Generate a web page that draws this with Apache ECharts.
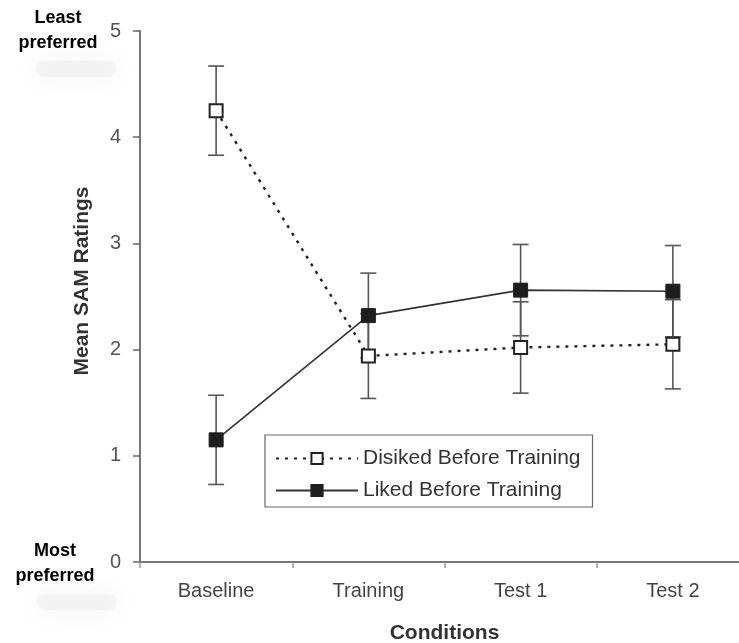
<!DOCTYPE html>
<html>
<head>
<meta charset="utf-8">
<script src="https://cdn.jsdelivr.net/npm/echarts@6/dist/echarts.min.js"></script>
<style>
  html, body { margin: 0; padding: 0; background: #fff; }
  #main { width: 739px; height: 643px; }
</style>
</head>
<body>
<div id="main"></div>
<script>
var categories = ['Baseline', 'Training', 'Test 1', 'Test 2'];
var dislikedMean = [4.25, 1.94, 2.02, 2.05];
var dislikedErr = [0.42, 0.40, 0.43, 0.42];
var likedMean = [1.15, 2.32, 2.56, 2.55];
var likedErr = [0.42, 0.40, 0.43, 0.43];
var yTicks = [0, 1, 2, 3, 4, 5];

var FONT = '"Liberation Sans", Arial, sans-serif';

function errData(mean, err) {
  var out = [];
  for (var i = 0; i < mean.length; i++) {
    out.push([i, mean[i] - err[i], mean[i] + err[i]]);
  }
  return out;
}

function renderErr(params, api) {
  var lo = api.coord([api.value(0), api.value(1)]);
  var hi = api.coord([api.value(0), api.value(2)]);
  var w = 8;
  var st = { stroke: '#555', lineWidth: 1.6 };
  return {
    type: 'group',
    children: [
      { type: 'line', shape: { x1: lo[0], y1: lo[1], x2: hi[0], y2: hi[1] }, style: st },
      { type: 'line', shape: { x1: lo[0] - w, y1: lo[1], x2: lo[0] + w, y2: lo[1] }, style: st },
      { type: 'line', shape: { x1: hi[0] - w, y1: hi[1], x2: hi[0] + w, y2: hi[1] }, style: st }
    ]
  };
}

// soft grey smudge under the side notes
function blurBlob(cx, cy) {
  return {
    type: 'rect',
    shape: { x: cx - 40, y: cy - 8, width: 80, height: 16, r: 8 },
    style: {
      fill: 'rgba(225,225,225,0.3)',
      shadowBlur: 26,
      shadowColor: 'rgba(200,200,200,0.75)'
    },
    z: -1
  };
}

function note(text, x, y) {
  return {
    type: 'text', x: x, y: y,
    style: { text: text, font: 'bold 18px ' + FONT, fill: '#000', align: 'center', verticalAlign: 'middle' }
  };
}

var chartDom = document.getElementById('main');
var myChart = echarts.init(chartDom);
var option;

option = {
  animation: false,
  backgroundColor: '#fff',
  grid: { left: 140, top: 31, width: 609, height: 531, outerBoundsMode: 'none', containLabel: false },
  graphic: [
    blurBlob(76, 69),
    blurBlob(77, 602),
    note('Least', 58, 18),
    note('preferred', 58, 43),
    note('Most', 55, 551),
    note('preferred', 55, 576),
    { type: 'text', x: 82, y: 281, rotation: Math.PI / 2, style: { text: 'Mean SAM Ratings', font: 'bold 21px ' + FONT, fill: '#333', align: 'center', verticalAlign: 'middle' } }
  ],
  legend: {
    data: ['Disiked Before Training', 'Liked Before Training'],
    orient: 'vertical',
    left: 265,
    top: 435,
    padding: [13, 12, 6, 10],
    itemGap: 11,
    itemWidth: 82,
    itemHeight: 14,
    borderColor: '#666',
    borderWidth: 1.2,
    borderRadius: 0,
    backgroundColor: '#fff',
    textStyle: { fontSize: 21, lineHeight: 21, color: '#333', fontFamily: FONT }
  },
  xAxis: {
    type: 'category',
    data: categories,
    boundaryGap: true,
    name: 'Conditions',
    nameLocation: 'middle',
    nameGap: 61,
    nameTextStyle: { fontSize: 21, fontWeight: 'bold', color: '#333', fontFamily: FONT },
    axisLine: { lineStyle: { color: '#777', width: 2 } },
    axisTick: { show: true, length: 6, lineStyle: { color: '#999', width: 1.5 } },
    axisLabel: { margin: 19, fontSize: 20, color: '#444', fontFamily: FONT },
    splitLine: { show: false }
  },
  yAxis: {
    type: 'value',
    min: yTicks[0],
    max: yTicks[yTicks.length - 1],
    interval: 1,
    axisLine: { show: true, lineStyle: { color: '#777', width: 2 } },
    axisTick: { show: true, length: 7, lineStyle: { color: '#666', width: 1.5 } },
    axisLabel: { margin: 19, fontSize: 20, color: '#555', fontFamily: FONT },
    splitLine: { show: false }
  },
  series: [
    {
      name: 'errDisliked',
      type: 'custom',
      renderItem: renderErr,
      data: errData(dislikedMean, dislikedErr),
      z: 1,
      silent: true
    },
    {
      name: 'errLiked',
      type: 'custom',
      renderItem: renderErr,
      data: errData(likedMean, likedErr),
      z: 1,
      silent: true
    },
    {
      name: 'Disiked Before Training',
      type: 'line',
      data: dislikedMean,
      symbol: 'rect',
      symbolSize: 13,
      showAllSymbol: true,
      lineStyle: { color: '#222', width: 2.4, type: [3, 6] },
      itemStyle: { color: '#fff', borderColor: '#222', borderWidth: 2 },
      z: 3
    },
    {
      name: 'Liked Before Training',
      type: 'line',
      data: likedMean,
      symbol: 'rect',
      symbolSize: 14,
      showAllSymbol: true,
      lineStyle: { color: '#333', width: 1.6 },
      itemStyle: { color: '#1e1e1e', borderColor: '#1e1e1e', borderWidth: 1 },
      z: 4
    }
  ]
};
option && myChart.setOption(option);
</script>
</body>
</html>
